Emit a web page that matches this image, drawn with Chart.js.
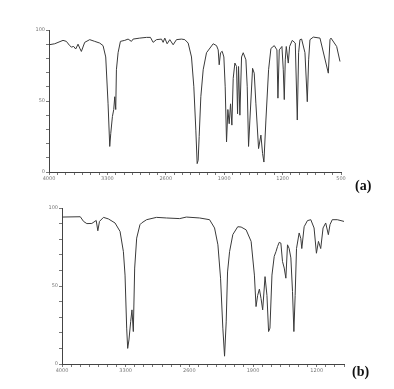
<!DOCTYPE html>
<html>
<head>
<meta charset="utf-8">
<script src="https://cdn.jsdelivr.net/npm/chart.js@4/dist/chart.umd.min.js"></script>
<style>
  body { margin: 0; background: #fff; width: 394px; height: 389px; position: relative; overflow: hidden; }
  canvas { position: absolute; left: 0; }
  #chart_a { top: 20px; }
  #chart_b { top: 195px; }
  .tag { position: absolute; font-family: "Liberation Serif", serif; font-weight: bold; font-size: 14px; color: #111; }
</style>
</head>
<body>
<canvas id="chart_a" width="394" height="165"></canvas>
<canvas id="chart_b" width="394" height="185"></canvas>
<div class="tag" style="left:355px; top:178px;">(a)</div>
<div class="tag" style="left:352px; top:364px;">(b)</div>
<script>
// spectrum (a): wavenumber (cm-1) and transmittance (%)
var waveA = [4000, 3932, 3832, 3792, 3752, 3732, 3704, 3680, 3652, 3632, 3612, 3572, 3512, 3452,
    3392, 3352, 3320, 3292, 3272, 3260, 3240, 3224, 3212, 3200, 3192, 3172, 3144, 3092, 3052, 3012,
    2992, 2912, 2832, 2784, 2752, 2712, 2652, 2632, 2612, 2584, 2552, 2512, 2472, 2412, 2372, 2332,
    2292, 2264, 2240, 2224, 2212, 2200, 2180, 2152, 2112, 2032, 1992, 1972, 1960, 1944, 1924, 1904,
    1888, 1872, 1856, 1840, 1824, 1808, 1792, 1772, 1752, 1740, 1728, 1712, 1692, 1672, 1640, 1624,
    1624, 1608, 1592, 1560, 1540, 1520, 1488, 1460, 1440, 1424, 1400, 1368, 1340, 1300, 1268, 1256,
    1240, 1208, 1192, 1180, 1168, 1156, 1132, 1116, 1084, 1048, 1024, 1008, 992, 972, 932, 904, 888,
    872, 832, 752, 652, 632, 620, 552, 512, 500];
var transA = [89.6, 90.3, 92.7, 92, 89, 88, 88.4, 86.6, 90, 87.3, 84.9, 91.3, 93.2, 92,
    90.8, 89, 81, 48, 18, 27, 39, 44, 53, 44, 72, 84, 92, 92.7, 93.6, 92,
    93.6, 94.3, 94.8, 94.8, 91.3, 93.2, 93.6, 91.3, 94.3, 90.3, 93.2, 89.6, 93.2, 93.6, 93.2, 90.8,
    81, 60, 29.5, 5.9, 8.3, 25, 53, 72, 84, 90.3, 89, 86, 75.5, 84, 85, 81,
    60, 21.2, 44, 34, 48, 33, 66, 76.7, 74.3, 41, 74.3, 40, 81, 84, 79, 60,
    60, 18, 36.6, 73, 69.6, 48, 16.5, 26, 13, 7, 36.6, 72, 87, 89, 86, 52,
    86, 88.4, 72, 51, 79, 88.4, 76.7, 88.4, 92.7, 90.8, 36.6, 84, 93.2, 93.6, 84, 49.5,
    79, 93.2, 95, 94.3, 69.6, 93.2, 94.3, 88.4, 77.8];

// spectrum (b)
var waveB = [4000, 3799, 3763, 3727, 3672, 3624, 3606, 3588, 3544, 3490, 3417, 3362, 3325, 3307,
    3289, 3278, 3264, 3245, 3231, 3216, 3201, 3179, 3143, 3125, 3070, 2961, 2852, 2706, 2633, 2487,
    2378, 2323, 2286, 2257, 2232, 2213, 2195, 2180, 2158, 2122, 2068, 2031, 1976, 1921, 1885, 1867,
    1849, 1830, 1812, 1794, 1768, 1747, 1729, 1714, 1692, 1667, 1648, 1630, 1612, 1594, 1576, 1557,
    1539, 1521, 1503, 1484, 1466, 1451, 1437, 1422, 1393, 1375, 1364, 1338, 1302, 1265, 1229, 1203,
    1181, 1156, 1130, 1101, 1072, 1054, 1029, 974, 900];
var transB = [94.2, 94.4, 91.4, 90, 90.1, 92, 85.4, 91.4, 94, 93, 90.4, 85, 72, 57,
    23, 10, 15.4, 27.2, 34.7, 20.8, 61.5, 80.7, 89.3, 90.4, 92.5, 94, 93.6, 93.2, 94.2, 93.6,
    92.5, 87.2, 76.4, 55, 23, 5, 27, 59, 72, 83, 88, 87.8, 86, 78.6, 57, 36.8,
    44, 48, 42, 34.7, 56, 44, 20.8, 23, 57, 69, 72, 75.4, 78, 77.5, 65.7, 61.5,
    55, 76.4, 74, 68, 46.5, 20.8, 44, 74, 84, 80.5, 74, 88, 91.9, 92.5, 87.2, 71,
    78.6, 74, 87.2, 90.4, 82.9, 89.3, 92.5, 92.5, 91.4];

var yTicks = [0, 50, 100];

function toPoints(xs, ys) {
    return xs.map(function (x, i) { return {x: x, y: ys[i]}; });
}

function makeSpectrum(id, xs, ys, opts) {
    var ctx = document.getElementById(id).getContext('2d');
    return new Chart(ctx, {
        type: 'line',
        data: {
            datasets: [{
                data: toPoints(xs, ys),
                borderColor: '#3a3a3a',
                borderWidth: 1,
                pointRadius: 0,
                tension: 0,
                fill: false
            }]
        },
        options: {
            responsive: false,
            animation: false,
            layout: {padding: {left: 0, right: opts.padRight, top: opts.padTop, bottom: 0}},
            plugins: {legend: {display: false}, tooltip: {enabled: false}},
            scales: {
                x: {
                    type: 'linear',
                    reverse: true,
                    min: opts.xMin,
                    max: 4000,
                    border: {color: '#444', width: 1},
                    grid: {drawOnChartArea: false, tickLength: 3, color: '#777'},
                    ticks: {
                        stepSize: 100,
                        autoSkip: false,
                        maxRotation: 0,
                        padding: 1,
                        color: '#777',
                        font: {size: 5, family: 'DejaVu Sans'},
                        callback: function (v) {
                            var n = Math.round(v);
                            return (4000 - n) % 700 === 0 ? String(n) : '';
                        }
                    },
                    afterFit: function (scale) {
                        scale.height = opts.xHeight;
                        scale.paddingLeft = 0;
                        scale.paddingRight = 0;
                    }
                },
                y: {
                    min: 0,
                    max: 100,
                    border: {color: '#444', width: 1},
                    grid: {drawOnChartArea: false, tickLength: 3, color: '#777'},
                    ticks: {
                        stepSize: 10,
                        padding: 1,
                        color: '#777',
                        font: {size: 5, family: 'DejaVu Sans'},
                        callback: function (v) {
                            return yTicks.indexOf(Math.round(v)) >= 0 ? String(Math.round(v)) : '';
                        }
                    },
                    afterFit: function (scale) {
                        scale.width = opts.yWidth;
                        scale.paddingTop = 0;
                        scale.paddingBottom = 0;
                    }
                }
            }
        }
    });
}

makeSpectrum('chart_a', waveA, transA, {xMin: 500, padRight: 53, padTop: 10, xHeight: 13, yWidth: 49});
makeSpectrum('chart_b', waveB, transB, {xMin: 900, padRight: 50, padTop: 13, xHeight: 16, yWidth: 62});
</script>
</body>
</html>
